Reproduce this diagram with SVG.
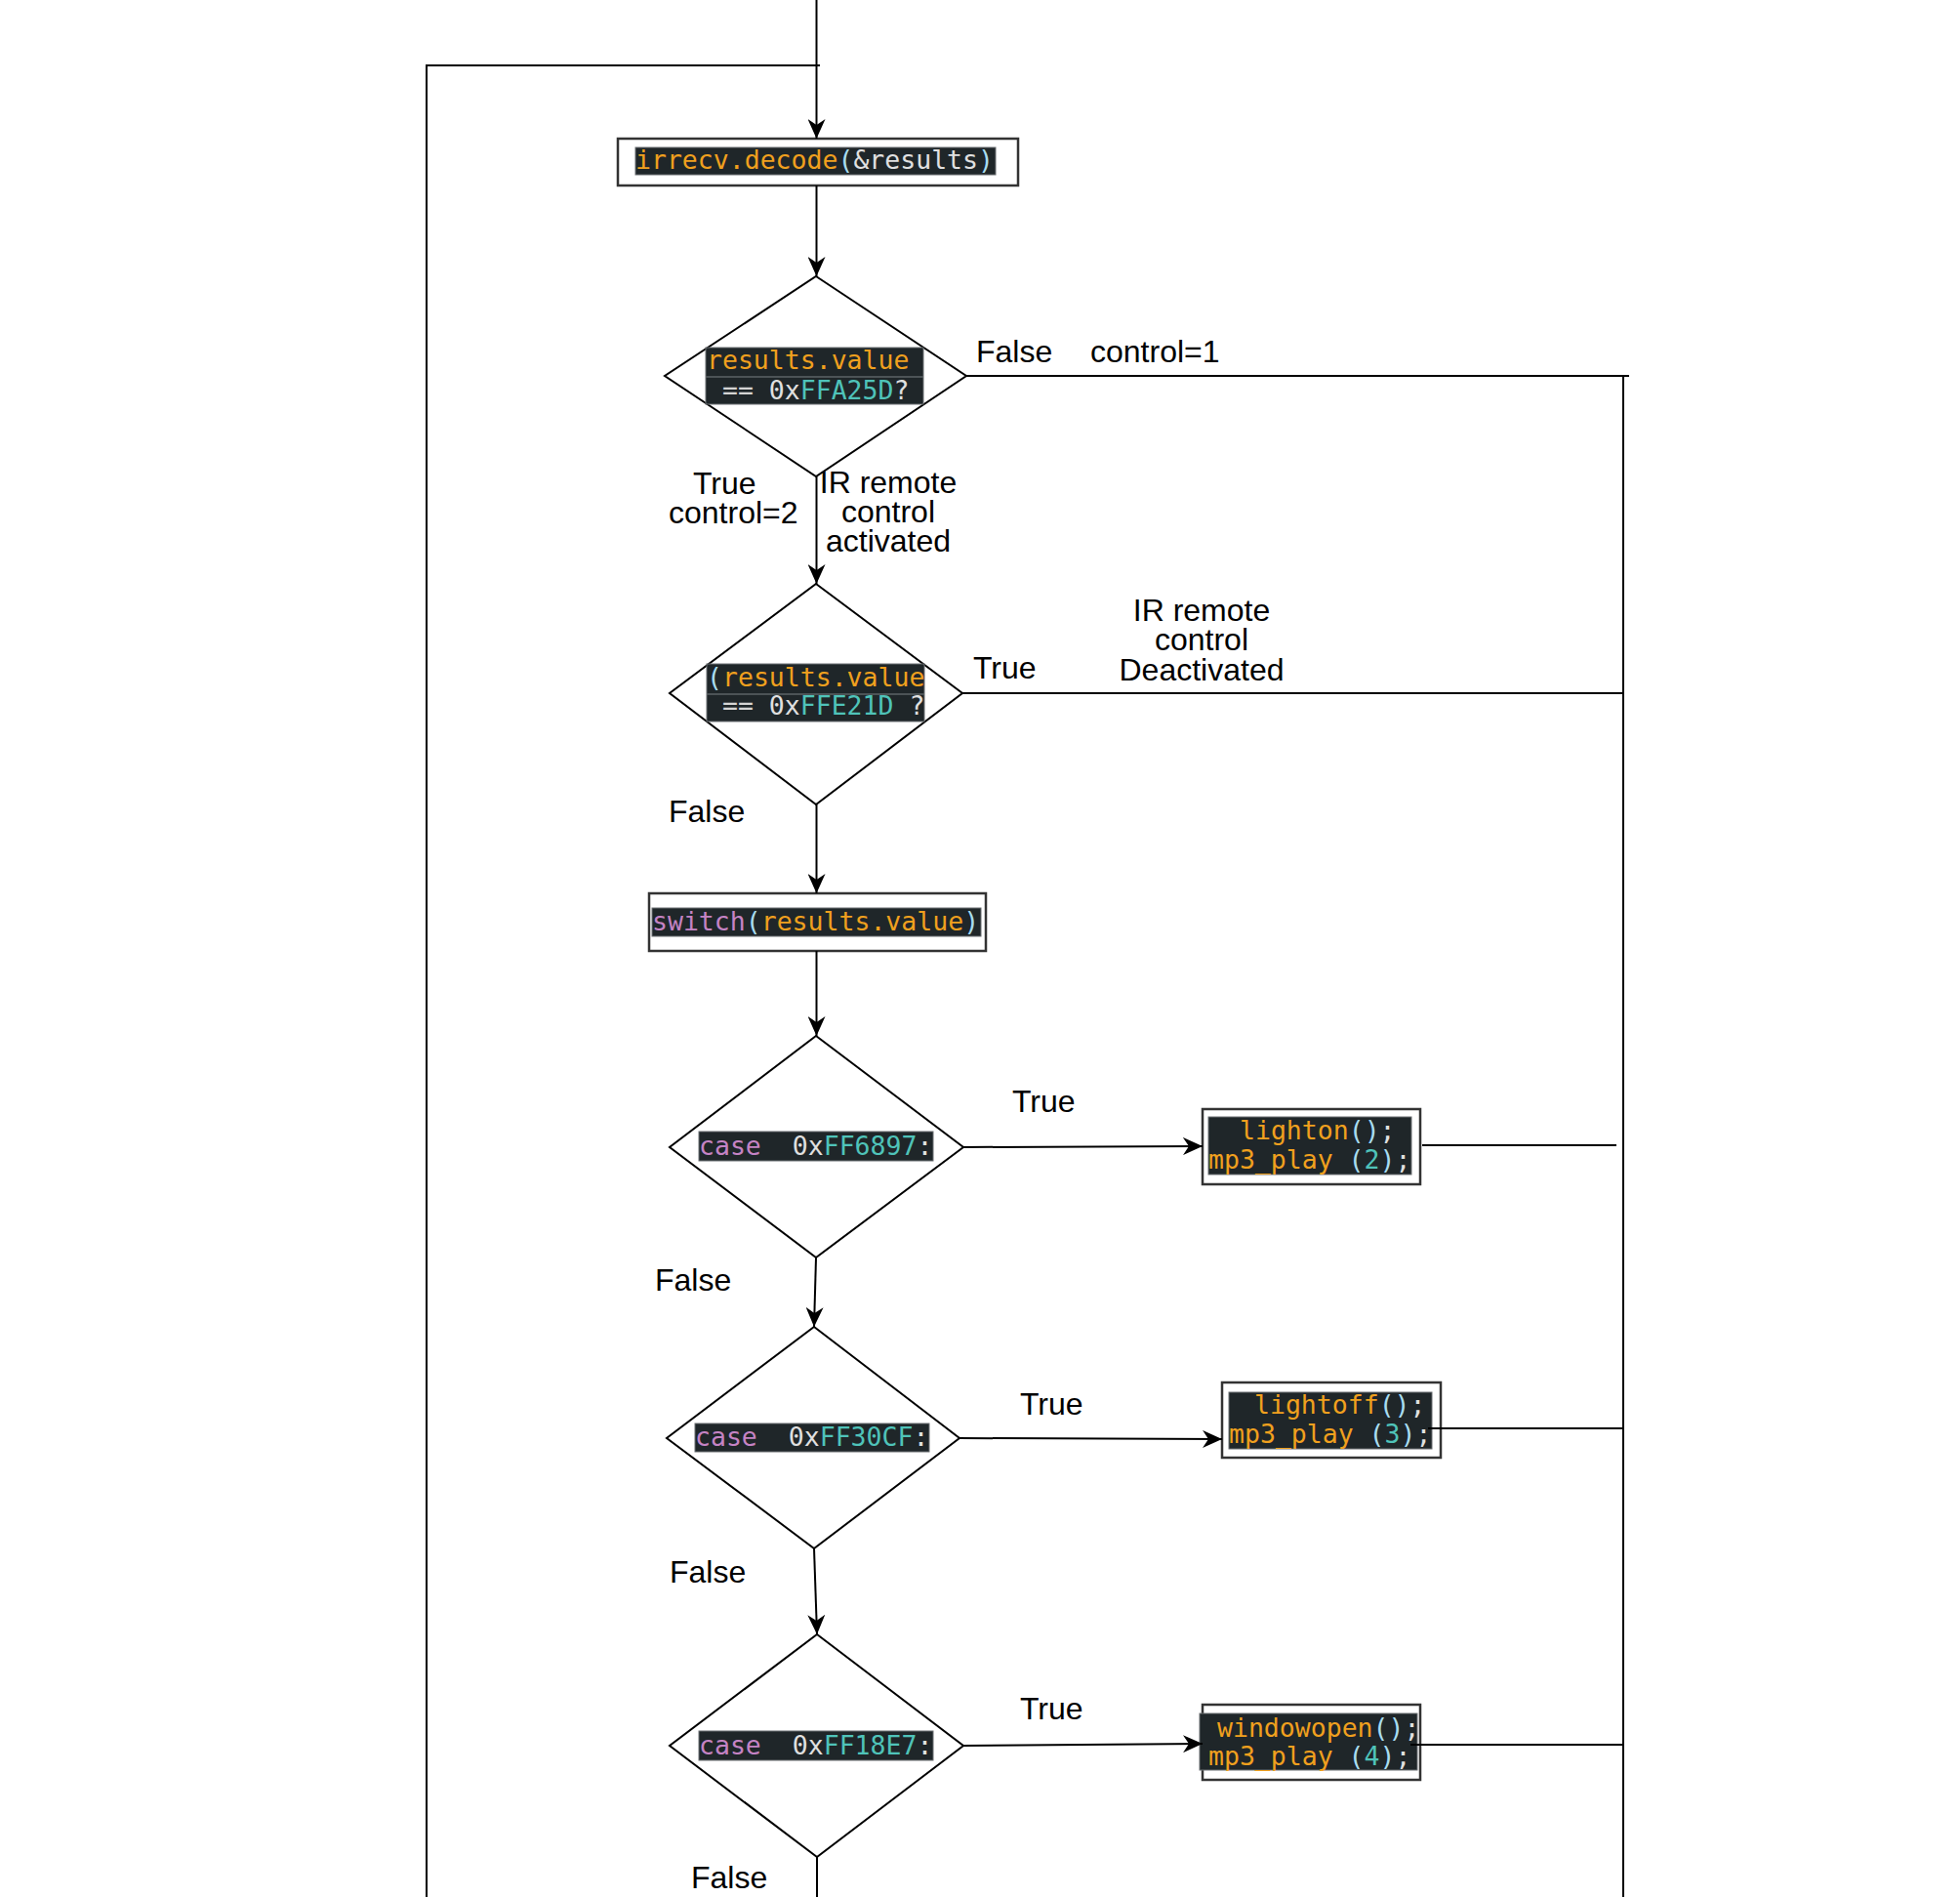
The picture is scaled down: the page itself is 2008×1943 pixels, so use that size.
<svg xmlns="http://www.w3.org/2000/svg" width="2008" height="1943" viewBox="0 0 2008 1943">
<defs>
<style>
.lbl{font-family:"Liberation Sans",Arial,sans-serif;font-size:32px;fill:#000}
.mid{text-anchor:middle}
.code{font-family:"DejaVu Sans Mono","Liberation Mono",monospace;font-size:26.5px;white-space:pre;fill:#d4d4d4}
.bg{fill:#1f2629;stroke:#6b6f72;stroke-width:1}
.box{fill:#fff;stroke:#333;stroke-width:2.5}
.dia{fill:#fff;stroke:#000;stroke-width:2}
.sep{stroke:#5d6366;stroke-width:1.5}
.o{fill:#f0a01e}
.t{fill:#4fc3b9}
.p{fill:#c583c4}
.w{fill:#e0e0e0}
.b{fill:#a8dcf0}
.con{fill:none;stroke:#000;stroke-width:2}
</style>
<marker id="arr" markerUnits="userSpaceOnUse" viewBox="0 0 20 18" refX="20" refY="9" markerWidth="20" markerHeight="18" orient="auto">
<path d="M0,0 L20,9 L0,18 L6,9 z" fill="#000"/>
</marker>
</defs>
<rect width="2008" height="1943" fill="#fff"/>

<g id="decode">
<rect class="box" x="633" y="142" width="410" height="48"/>
<rect class="bg" x="651" y="151" width="369" height="28"/>
<text class="code" x="651" y="173"><tspan class="o">irrecv.decode</tspan><tspan class="b">(</tspan><tspan class="w">&amp;results</tspan><tspan class="b">)</tspan></text>
</g>

<g id="check-activate">
<polygon class="dia" points="836,283 990,385 836,488 681,385"/>
<rect class="bg" x="723" y="356" width="223" height="58"/>
<line class="sep" x1="723" y1="386" x2="946" y2="386"/>
<text class="code" x="724" y="378"><tspan class="o">results.value</tspan></text>
<text class="code" x="724" y="409"> == <tspan class="w">0x</tspan><tspan class="t">FFA25D</tspan><tspan class="w">?</tspan></text>
</g>

<g id="check-deactivate">
<polygon class="dia" points="836,598 986,710 836,824 686,710"/>
<rect class="bg" x="724" y="680" width="223" height="59"/>
<line class="sep" x1="724" y1="711" x2="947" y2="711"/>
<text class="code" x="724" y="703"><tspan class="b">(</tspan><tspan class="o">results.value</tspan></text>
<text class="code" x="724" y="732"> == <tspan class="w">0x</tspan><tspan class="t">FFE21D</tspan><tspan class="w"> ?</tspan></text>
</g>

<g id="switch">
<rect class="box" x="665" y="915" width="345" height="59"/>
<rect class="bg" x="668" y="930" width="337" height="29"/>
<text class="code" x="668" y="953"><tspan class="p">switch</tspan><tspan class="b">(</tspan><tspan class="o">results.value</tspan><tspan class="b">)</tspan></text>
</g>

<g id="case1">
<polygon class="dia" points="836,1061 987,1175 836,1288 686,1175"/>
<rect class="bg" x="716" y="1159" width="240" height="30"/>
<text class="code" x="716" y="1183"><tspan class="p">case</tspan>  <tspan class="w">0x</tspan><tspan class="t">FF6897</tspan><tspan class="w">:</tspan></text>
</g>

<g id="case2">
<polygon class="dia" points="834,1359 983,1473 834,1586 683,1473"/>
<rect class="bg" x="712" y="1458" width="240" height="29"/>
<text class="code" x="712" y="1481"><tspan class="p">case</tspan>  <tspan class="w">0x</tspan><tspan class="t">FF30CF</tspan><tspan class="w">:</tspan></text>
</g>

<g id="case3">
<polygon class="dia" points="837,1674 987,1788 837,1902 686,1788"/>
<rect class="bg" x="716" y="1773" width="240" height="30"/>
<text class="code" x="716" y="1797"><tspan class="p">case</tspan>  <tspan class="w">0x</tspan><tspan class="t">FF18E7</tspan><tspan class="w">:</tspan></text>
</g>

<g id="action1">
<rect class="box" x="1232" y="1136" width="223" height="77"/>
<rect class="bg" x="1238" y="1144" width="208" height="59"/>
<text class="code" x="1270" y="1167"><tspan class="o">lighton</tspan><tspan class="b">()</tspan><tspan class="w">;</tspan></text>
<text class="code" x="1238" y="1197"><tspan class="o">mp3_play </tspan><tspan class="b">(</tspan><tspan class="t">2</tspan><tspan class="b">)</tspan><tspan class="w">;</tspan></text>
</g>

<g id="action2">
<rect class="box" x="1252" y="1416" width="224" height="77"/>
<rect class="bg" x="1259" y="1426" width="208" height="58"/>
<text class="code" x="1285" y="1448"><tspan class="o">lightoff</tspan><tspan class="b">()</tspan><tspan class="w">;</tspan></text>
<text class="code" x="1259" y="1478"><tspan class="o">mp3_play </tspan><tspan class="b">(</tspan><tspan class="t">3</tspan><tspan class="b">)</tspan><tspan class="w">;</tspan></text>
</g>

<g id="action3">
<rect class="box" x="1232" y="1746" width="223" height="77"/>
<rect class="bg" x="1229" y="1755" width="223" height="58"/>
<text class="code" x="1247" y="1779"><tspan class="o">windowopen</tspan><tspan class="b">()</tspan><tspan class="w">;</tspan></text>
<text class="code" x="1238" y="1808"><tspan class="o">mp3_play </tspan><tspan class="b">(</tspan><tspan class="t">4</tspan><tspan class="b">)</tspan><tspan class="w">;</tspan></text>
</g>

<g id="connectors">
<path class="con" d="M836.5,0 V142" marker-end="url(#arr)"/>
<path class="con" d="M437,1943 V67 H840"/>
<path class="con" d="M836.5,190 V283" marker-end="url(#arr)"/>
<path class="con" d="M990,385 H1669"/>
<path class="con" d="M1663,384 V1943"/>
<path class="con" d="M836.5,488 V598" marker-end="url(#arr)"/>
<path class="con" d="M986,710 H1663"/>
<path class="con" d="M836.5,824 V915" marker-end="url(#arr)"/>
<path class="con" d="M836.5,974 V1061" marker-end="url(#arr)"/>
<path class="con" d="M987,1175 L1232,1174" marker-end="url(#arr)"/>
<path class="con" d="M1457,1173 H1656"/>
<path class="con" d="M836,1288 L834,1359" marker-end="url(#arr)"/>
<path class="con" d="M983,1473 L1252,1474" marker-end="url(#arr)"/>
<path class="con" d="M1463,1463 H1663"/>
<path class="con" d="M834,1586 L837,1674" marker-end="url(#arr)"/>
<path class="con" d="M987,1788 L1232,1786" marker-end="url(#arr)"/>
<path class="con" d="M1445,1787 H1663"/>
<path class="con" d="M837,1902 V1943"/>
</g>

<g id="labels">
<text class="lbl" x="1000" y="371">False</text>
<text class="lbl" x="1117" y="371">control=1</text>
<text class="lbl" x="710" y="506">True</text>
<text class="lbl" x="685" y="536">control=2</text>
<text class="lbl mid" x="910" y="505">IR remote</text>
<text class="lbl mid" x="910" y="535">control</text>
<text class="lbl mid" x="910" y="565">activated</text>
<text class="lbl" x="997" y="695">True</text>
<text class="lbl mid" x="1231" y="636">IR remote</text>
<text class="lbl mid" x="1231" y="666">control</text>
<text class="lbl mid" x="1231" y="697">Deactivated</text>
<text class="lbl" x="685" y="842">False</text>
<text class="lbl" x="1037" y="1139">True</text>
<text class="lbl" x="671" y="1322">False</text>
<text class="lbl" x="1045" y="1449">True</text>
<text class="lbl" x="686" y="1621">False</text>
<text class="lbl" x="1045" y="1761">True</text>
<text class="lbl" x="708" y="1934">False</text>
</g>
</svg>
